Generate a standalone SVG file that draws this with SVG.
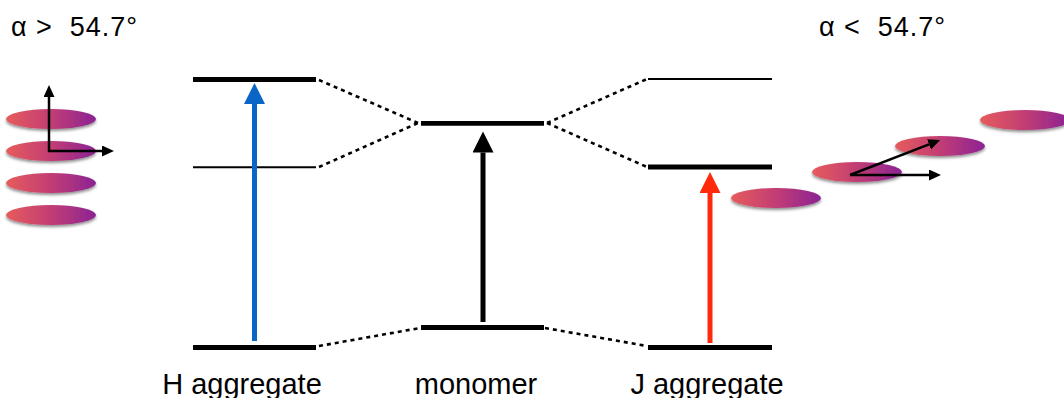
<svg xmlns="http://www.w3.org/2000/svg" width="1064" height="398" viewBox="0 0 1064 398">
  <style>
    .lvl { stroke: #000; stroke-width: 4.8; fill: none; }
    .lvl-thin { stroke: #000; stroke-width: 2; fill: none; }
    .dot { stroke: #000; stroke-width: 2.6; stroke-dasharray: 4 4; fill: none; }
    .axis { stroke: #000; stroke-width: 2.5; fill: none; }
    .lbl { font-family: "Liberation Sans", Arial, sans-serif; font-size: 29px; fill: #000; text-anchor: middle; }
    .ang { font-family: "Liberation Sans", Arial, sans-serif; font-size: 27px; fill: #000; }
    .mol { fill: url(#molGrad); filter: url(#shadow); }
  </style>
  <defs>
    <linearGradient id="molGrad" x1="0" y1="0" x2="1" y2="0">
      <stop offset="0" stop-color="#e65c5c"/>
      <stop offset="0.5" stop-color="#c23d74"/>
      <stop offset="1" stop-color="#8b2394"/>
    </linearGradient>
    <filter id="shadow" x="-20%" y="-50%" width="140%" height="220%">
      <feDropShadow dx="0" dy="2" stdDeviation="1.5" flood-color="#000" flood-opacity="0.45"/>
    </filter>
    <marker id="headBlue" markerUnits="userSpaceOnUse" markerWidth="22" markerHeight="22" refX="0" refY="10.5" orient="auto">
      <path d="M0,0 L21,10.5 L0,21 z" fill="#0a66c6"/>
    </marker>
    <marker id="headBlack" markerUnits="userSpaceOnUse" markerWidth="22" markerHeight="22" refX="0" refY="10.5" orient="auto">
      <path d="M0,0 L21,10.5 L0,21 z" fill="#000"/>
    </marker>
    <marker id="headRed" markerUnits="userSpaceOnUse" markerWidth="22" markerHeight="22" refX="0" refY="10.5" orient="auto">
      <path d="M0,0 L21,10.5 L0,21 z" fill="#ff2a0c"/>
    </marker>
    <marker id="headSmall" markerUnits="userSpaceOnUse" markerWidth="13" markerHeight="12" refX="0" refY="5.5" orient="auto">
      <path d="M0,0 L12,5.5 L0,11 z" fill="#000"/>
    </marker>
  </defs>

  <rect width="1064" height="398" fill="#fff"/>

  <!-- angle labels -->
  <text id="label-alpha-gt" class="ang" x="11" y="36" xml:space="preserve" textLength="126">α &gt;  54.7°</text>
  <text id="label-alpha-lt" class="ang" x="819" y="36" xml:space="preserve" textLength="126">α &lt;  54.7°</text>

  <!-- H aggregate stack -->
  <g id="h-stack">
    <ellipse class="mol" cx="51" cy="119" rx="45" ry="10"/>
    <ellipse class="mol" cx="51" cy="151" rx="45" ry="10"/>
    <ellipse class="mol" cx="51" cy="183" rx="45" ry="10"/>
    <ellipse class="mol" cx="51" cy="215" rx="45" ry="10"/>
    <line class="axis" x1="49" y1="152" x2="49" y2="97" marker-end="url(#headSmall)"/>
    <line class="axis" x1="48" y1="151" x2="102" y2="151" marker-end="url(#headSmall)"/>
  </g>

  <!-- J aggregate stack -->
  <g id="j-stack">
    <ellipse class="mol" cx="776" cy="198" rx="45" ry="10"/>
    <ellipse class="mol" cx="857" cy="172" rx="45" ry="10"/>
    <ellipse class="mol" cx="940" cy="146" rx="45" ry="10"/>
    <ellipse class="mol" cx="1025" cy="120" rx="45" ry="10"/>
    <line class="axis" x1="850" y1="175" x2="929" y2="144.3" marker-end="url(#headSmall)"/>
    <line class="axis" x1="850" y1="175" x2="929" y2="175" marker-end="url(#headSmall)"/>
  </g>

  <!-- connectors (correlation lines) -->
  <g id="connectors">
    <line class="dot" x1="319" y1="80" x2="418" y2="123"/>
    <line class="dot" x1="319" y1="167" x2="418" y2="123"/>
    <line class="dot" x1="547" y1="123" x2="647" y2="79"/>
    <line class="dot" x1="547" y1="123" x2="647" y2="167"/>
    <line class="dot" x1="319" y1="346" x2="420" y2="328"/>
    <line class="dot" x1="545" y1="328" x2="647" y2="346"/>
  </g>

  <!-- H aggregate levels -->
  <g id="h-aggregate">
    <line class="lvl" x1="193" y1="79.5" x2="316" y2="79.5"/>
    <line class="lvl-thin" x1="193" y1="167.3" x2="316" y2="167.3"/>
    <line class="lvl" x1="193" y1="347.5" x2="316" y2="347.5"/>
    <line x1="254.5" y1="341" x2="254.5" y2="104" stroke="#0a66c6" stroke-width="5" marker-end="url(#headBlue)"/>
    <text class="lbl" x="242" y="393.5">H aggregate</text>
  </g>

  <!-- monomer levels -->
  <g id="monomer">
    <line class="lvl" x1="421" y1="123.3" x2="544" y2="123.3"/>
    <line class="lvl" x1="421" y1="327.5" x2="544" y2="327.5"/>
    <line x1="483" y1="322" x2="483" y2="152.5" stroke="#000" stroke-width="5" marker-end="url(#headBlack)"/>
    <text class="lbl" x="476" y="393.5">monomer</text>
  </g>

  <!-- J aggregate levels -->
  <g id="j-aggregate">
    <line class="lvl-thin" x1="648" y1="79" x2="772" y2="79"/>
    <line class="lvl" x1="648" y1="167" x2="772" y2="167"/>
    <line class="lvl" x1="648" y1="347.5" x2="772" y2="347.5"/>
    <line x1="710" y1="343" x2="710" y2="193" stroke="#ff2a0c" stroke-width="5" marker-end="url(#headRed)"/>
    <text class="lbl" x="707" y="393.5">J aggregate</text>
  </g>
</svg>
